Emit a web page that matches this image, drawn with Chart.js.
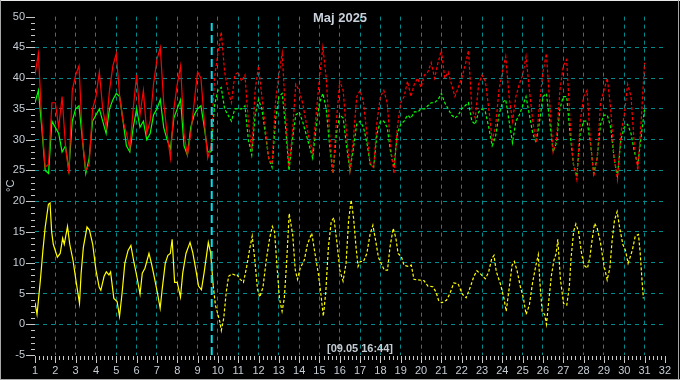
<!DOCTYPE html>
<html>
<head>
<meta charset="utf-8">
<script src="https://cdn.jsdelivr.net/npm/chart.js@4"></script>
<style>
  html, body { margin: 0; padding: 0; background: #000; }
  #wrap { width: 680px; height: 380px; }
</style>
</head>
<body>
<div id="wrap"><canvas id="tempChart" width="680" height="380"></canvas></div>
<script>
// Chart data
const chartTitle = "Maj 2025";
const yAxisTitle = "°C";
const markerDay = 9.697;          // 09.05 16:44
const markerLabel = "[09.05 16:44]";
const firstDay = 1;
const samplesPerDay = 6;          // red / green every 4 hours

const redTemps = [
  40.5, 44, 33, 25.5, 26, 36,
  36, 32, 37, 29, 24.5, 38,
  40.5, 42, 30, 25, 26, 35,
  37, 41, 35, 32, 38, 42,
  44, 37, 33, 31, 28.5, 35,
  40.5, 34, 38, 31, 33, 39,
  43, 45, 36, 31, 27, 35,
  39, 42, 31, 27.5, 31, 36,
  41, 40, 33, 27, 29, 40,
  44, 47.5, 41, 38, 36, 40.5,
  41, 39.5, 40.5, 33, 28, 38,
  42, 37, 32, 27, 26, 36,
  40.5, 44, 34, 25.5, 31, 39,
  38, 36, 33, 30, 28, 34,
  40, 45, 40, 31, 24.5, 33,
  39.5, 38, 31, 25, 30, 37,
  38, 36, 31, 26, 25.5, 33,
  37, 38, 36, 29, 24.5, 32,
  36, 37, 39.5, 37, 39, 40,
  38.5, 40.5, 41, 42.5, 40, 42.5,
  44.5, 40, 41, 39, 37, 38.5,
  40, 42, 44.5, 35, 33.5, 39,
  40.5, 39.5, 35, 30, 32, 38,
  41, 43.5, 37, 33, 37, 39,
  40.5, 43.5, 38, 33, 29.5, 36,
  41, 44, 36, 28, 30, 38,
  42, 43, 33, 26, 23.5, 33,
  37, 38, 30, 24, 27, 36,
  38, 40, 35, 27, 23.5, 31,
  34, 39, 37, 29, 25, 33,
  42.5
];

const greenTemps = [
  36, 38, 32, 25, 24.5, 33,
  32, 31, 28, 29, 25, 33,
  35, 35.5, 30, 24.5, 27, 33,
  34, 35, 33, 31, 35, 36.5,
  37.5, 37, 33, 29, 28, 32,
  35, 32, 33, 30, 31, 34,
  35, 36.5, 32, 30, 28.5, 33.5,
  35, 36.5, 29, 27.5, 32, 34,
  35, 35.5, 32, 28, 28, 35.5,
  38, 38.5, 35, 34, 33, 35,
  35, 35, 35.5, 30, 27.5, 34,
  36.5, 35, 31, 27, 25.5, 33,
  37, 37.5, 32, 25, 30, 34,
  34.5, 33, 31, 29, 27, 32,
  36, 37.5, 35, 29, 24.5, 31,
  34, 33.5, 29, 25, 28.5, 32.5,
  33, 32, 29.5, 26, 25.5, 31,
  33, 33, 32, 28, 25.5, 31,
  32.5, 33, 34, 33.5, 34.5, 34.5,
  35, 35, 35.5, 36, 36, 36.5,
  37.5, 36, 35, 34, 33.5, 34,
  35, 35.5, 36, 33, 32.5, 34.5,
  35, 34.5, 32, 29, 30.5, 34,
  36, 36.5, 33, 29.5, 33, 34,
  35.5, 37, 34, 31, 29.5, 33,
  37, 37.5, 33, 28, 29.5, 35,
  37, 37, 31, 26, 24, 31,
  33, 33, 29.5, 24.5, 27, 32.5,
  34, 34, 32, 27, 24, 30,
  32, 32.5, 31, 28, 26, 30.5,
  35
];

const yellowDays = [
  1.0, 1.1, 1.26, 1.39, 1.5, 1.66, 1.74, 1.82, 1.9, 2.1, 2.24, 2.36, 2.44, 2.6, 2.71, 2.87,
  3.03, 3.19, 3.27, 3.38, 3.56, 3.68, 3.84, 4.0, 4.16, 4.24, 4.4, 4.51, 4.64, 4.72, 4.88,
  5.04, 5.16, 5.29, 5.42, 5.58, 5.72, 5.85, 6.01, 6.17, 6.28, 6.41, 6.61, 6.73, 6.86,
  7.02, 7.16, 7.26, 7.41, 7.54, 7.66, 7.75, 7.87, 8.0, 8.16, 8.27, 8.43, 8.63, 8.76, 8.92,
  9.05, 9.19, 9.32, 9.43, 9.53, 9.64, 9.77, 9.88, 10.0, 10.09, 10.17, 10.29, 10.41, 10.53,
  10.69, 10.85, 10.93, 11.1, 11.26, 11.42, 11.58, 11.69, 11.82, 11.95, 12.06, 12.22, 12.38,
  12.55, 12.68, 12.79, 12.9, 13.03, 13.16, 13.27, 13.39, 13.51, 13.68, 13.81, 13.92, 14.05,
  14.25, 14.41, 14.62, 14.78, 14.95, 15.06, 15.19, 15.31, 15.44, 15.58, 15.71, 15.87, 16.0,
  16.16, 16.31, 16.43, 16.56, 16.68, 16.8, 16.9, 17.01, 17.17, 17.33, 17.49, 17.63, 17.77,
  17.9, 18.03, 18.19, 18.35, 18.47, 18.63, 18.76, 18.87, 19.03, 19.16, 19.36, 19.52, 19.65,
  19.85, 20.14, 20.34, 20.58, 20.74, 20.86, 21.02, 21.25, 21.41, 21.61, 21.82, 22.03, 22.22,
  22.42, 22.6, 22.75, 22.95, 23.16, 23.32, 23.48, 23.59, 23.7, 23.91, 24.08, 24.19, 24.35,
  24.48, 24.59, 24.72, 24.88, 25.04, 25.17, 25.33, 25.49, 25.64, 25.77, 25.85, 25.96, 26.08,
  26.17, 26.28, 26.41, 26.54, 26.65, 26.73, 26.86, 27.01, 27.17, 27.3, 27.38, 27.51, 27.62,
  27.75, 27.9, 28.02, 28.19, 28.31, 28.43, 28.54, 28.67, 28.83, 29.0, 29.16, 29.29, 29.4,
  29.52, 29.65, 29.78, 29.93, 30.06, 30.19, 30.3, 30.41, 30.54, 30.7, 30.78, 30.86, 30.94
];

const yellowTemps = [
  3.5, 1.6, 7, 12, 15.7, 19.5, 19.7, 15, 13, 10.9, 11.5, 14, 13, 15.9, 13, 10.4,
  6.8, 3.4, 8.3, 12.5, 15.8, 15.3, 13, 8.8, 6, 5.5, 7.8, 8.5, 8, 8.5, 4.2,
  3.7, 1.3, 5.2, 9.9, 12, 12.8, 10.4, 7.8, 4.9, 8.3, 9.1, 11.5, 9.9, 7.8,
  5.2, 2.6, 5.7, 9.9, 11.2, 11.5, 13.8, 6.8, 6.8, 4.4, 8.3, 11.5, 13.3, 11.7, 8.8,
  6.2, 5.6, 8.3, 10.9, 13.3, 11.7, 6.3, 3.1, 1.6, 0.5, -1, 1, 5.2, 7.8,
  8.2, 8, 8.1, 7.3, 6.8, 9.4, 12.5, 14.3, 10.4, 5.7, 4.4, 6, 10.4,
  14, 15.9, 15, 9.9, 4.2, 2.1, 4.2, 10.4, 18, 14.6, 8.8, 7.3, 9.1,
  10.4, 13, 14.8, 11.5, 8.1, 5.2, 1.3, 5.2, 12.5, 16.7, 17.3, 13, 8.8,
  7, 9.9, 16.7, 20.2, 17.2, 12.5, 9.4, 10.2, 10.2, 11.5, 14.6, 16.1, 13.5,
  10.9, 9.9, 8.8, 8.8, 12.5, 15.6, 14, 11.5, 11, 9.6, 9.4, 9.6, 7.3,
  7.2, 7.1, 6.2, 6.1, 5.2, 3.9, 3.5, 3.9, 4.9, 6.7, 6.6, 4.9, 4.3,
  6, 7.8, 8.7, 8.1, 7.4, 8.4, 10.7, 11.2, 8.6, 6.5, 4.2, 2.1, 6.2,
  9.6, 10.2, 8.8, 6.2, 4.2, 1.6, 3.1, 6.8, 9.4, 11.3, 6.8, 2.1, 1.6,
  0, 3.6, 7.8, 10.4, 11.5, 13.8, 7.3, 3.4, 3.1, 6.2, 10.7, 15.1, 16.3,
  15.1, 11.5, 9.6, 9.1, 10.9, 14, 16.4, 15.6, 13.3, 9.6, 7.2, 9.1, 13.5,
  16.9, 18.3, 15.6, 13, 12, 9.9, 11, 12.2, 14.3, 14.6, 11.8, 7.8, 4.2
];

// Build point lists
const redPoints = redTemps.map((v, i) => ({ x: firstDay + i / samplesPerDay, y: v }));
const greenPoints = greenTemps.map((v, i) => ({ x: firstDay + i / samplesPerDay, y: v }));
const yellowPoints = yellowDays.map((d, i) => ({ x: d, y: yellowTemps[i] }));

const labelColor = "#c4ccd4";
const gridColor = "#008c8c";
const fontFamily = "'Liberation Sans', Arial, sans-serif";

// after the marker the values are dashed
const dashAfterMarker = {
  borderDash: ctx => ctx.p0.parsed.x >= markerDay - 0.04 ? [3, 2] : undefined
};

const decorPlugin = {
  id: "decor",
  beforeDraw(chart) {
    const c = chart.ctx;
    c.save();
    c.fillStyle = "#000";
    c.fillRect(0, 0, chart.width, chart.height);
    c.restore();
  },
  afterDraw(chart) {
    const c = chart.ctx;
    const xs = chart.scales.x;
    const ys = chart.scales.y;
    const area = chart.chartArea;
    c.save();

    // minor + major ticks
    c.strokeStyle = "#c8c8c8";
    c.lineWidth = 1;
    c.beginPath();
    for (let k = 0; k <= 155; k++) {
      const px = Math.round(xs.getPixelForValue(1 + k / 5)) + 0.5;
      const len = k % 5 === 0 ? 7 : 4;
      c.moveTo(px, area.bottom + 1);
      c.lineTo(px, area.bottom + 1 + len);
    }
    for (let v = -5; v <= 50; v++) {
      const py = Math.round(ys.getPixelForValue(v)) + 0.5;
      const len = v % 5 === 0 ? 9 : 4;
      c.moveTo(area.left - len, py);
      c.lineTo(area.left, py);
    }
    c.stroke();

    // title
    c.fillStyle = "#c8d0dc";
    c.font = "bold 13px " + fontFamily;
    c.textAlign = "center";
    c.textBaseline = "middle";
    c.fillText(chartTitle, 340, 18);

    // marker time label
    c.fillStyle = labelColor;
    c.font = "bold 11px " + fontFamily;
    c.fillText(markerLabel, 360, 349);

    // frame
    c.lineWidth = 1;
    c.strokeStyle = "#e8e8e8";
    c.beginPath();
    c.moveTo(0, 0.5); c.lineTo(chart.width, 0.5);
    c.stroke();
    c.strokeStyle = "#a8a8a8";
    c.beginPath();
    c.moveTo(0.5, 0); c.lineTo(0.5, chart.height);
    c.moveTo(0, chart.height - 0.5); c.lineTo(chart.width, chart.height - 0.5);
    c.moveTo(chart.width - 1.5, 0); c.lineTo(chart.width - 1.5, chart.height);
    c.stroke();
    c.restore();
  }
};

new Chart(document.getElementById("tempChart"), {
  type: "line",
  data: {
    datasets: [
      {
        label: "marker",
        data: [{ x: markerDay, y: -5 }, { x: markerDay, y: 49 }],
        borderColor: "#00e0f0",
        borderWidth: 2,
        borderDash: [8, 4],
        pointRadius: 0
      },
      {
        label: "red",
        data: redPoints,
        borderColor: "#ff0000",
        borderWidth: 1.2,
        pointRadius: 0,
        segment: dashAfterMarker
      },
      {
        label: "green",
        data: greenPoints,
        borderColor: "#00ff00",
        borderWidth: 1.2,
        pointRadius: 0,
        segment: dashAfterMarker
      },
      {
        label: "yellow",
        data: yellowPoints,
        borderColor: "#ffff00",
        borderWidth: 1.2,
        pointRadius: 0,
        segment: dashAfterMarker
      }
    ]
  },
  options: {
    responsive: false,
    animation: false,
    events: [],
    layout: {
      autoPadding: false,
      padding: { top: 4, right: 4.5, bottom: 0, left: 0 }
    },
    plugins: {
      legend: { display: false },
      tooltip: { enabled: false },
      title: { display: false }
    },
    scales: {
      x: {
        type: "linear",
        min: 1,
        max: 32,
        afterFit: scale => { scale.height = 25; },
        border: { display: false, dash: [4, 4] },
        grid: {
          drawTicks: false,
          lineWidth: 1,
          color: ctx => (ctx.tick && (ctx.tick.value === 1 || ctx.tick.value === 32)) ? "rgba(0,0,0,0)" : gridColor
        },
        ticks: {
          stepSize: 1,
          autoSkip: false,
          maxRotation: 0,
          padding: 9,
          color: labelColor,
          font: { family: fontFamily, size: 11 }
        }
      },
      y: {
        min: -5,
        max: 50,
        afterFit: scale => { scale.width = 35; },
        border: { display: false, dash: [4, 4] },
        grid: {
          drawTicks: false,
          lineWidth: 1,
          color: ctx => (ctx.tick && (ctx.tick.value === -5 || ctx.tick.value === 50)) ? "rgba(0,0,0,0)" : gridColor
        },
        ticks: {
          stepSize: 5,
          padding: 10,
          color: labelColor,
          font: { family: fontFamily, size: 11 }
        },
        title: {
          display: true,
          text: yAxisTitle,
          color: labelColor,
          font: { family: fontFamily, size: 11 },
          padding: { top: 4, bottom: 0 }
        }
      }
    }
  },
  plugins: [decorPlugin]
});
</script>
</body>
</html>
